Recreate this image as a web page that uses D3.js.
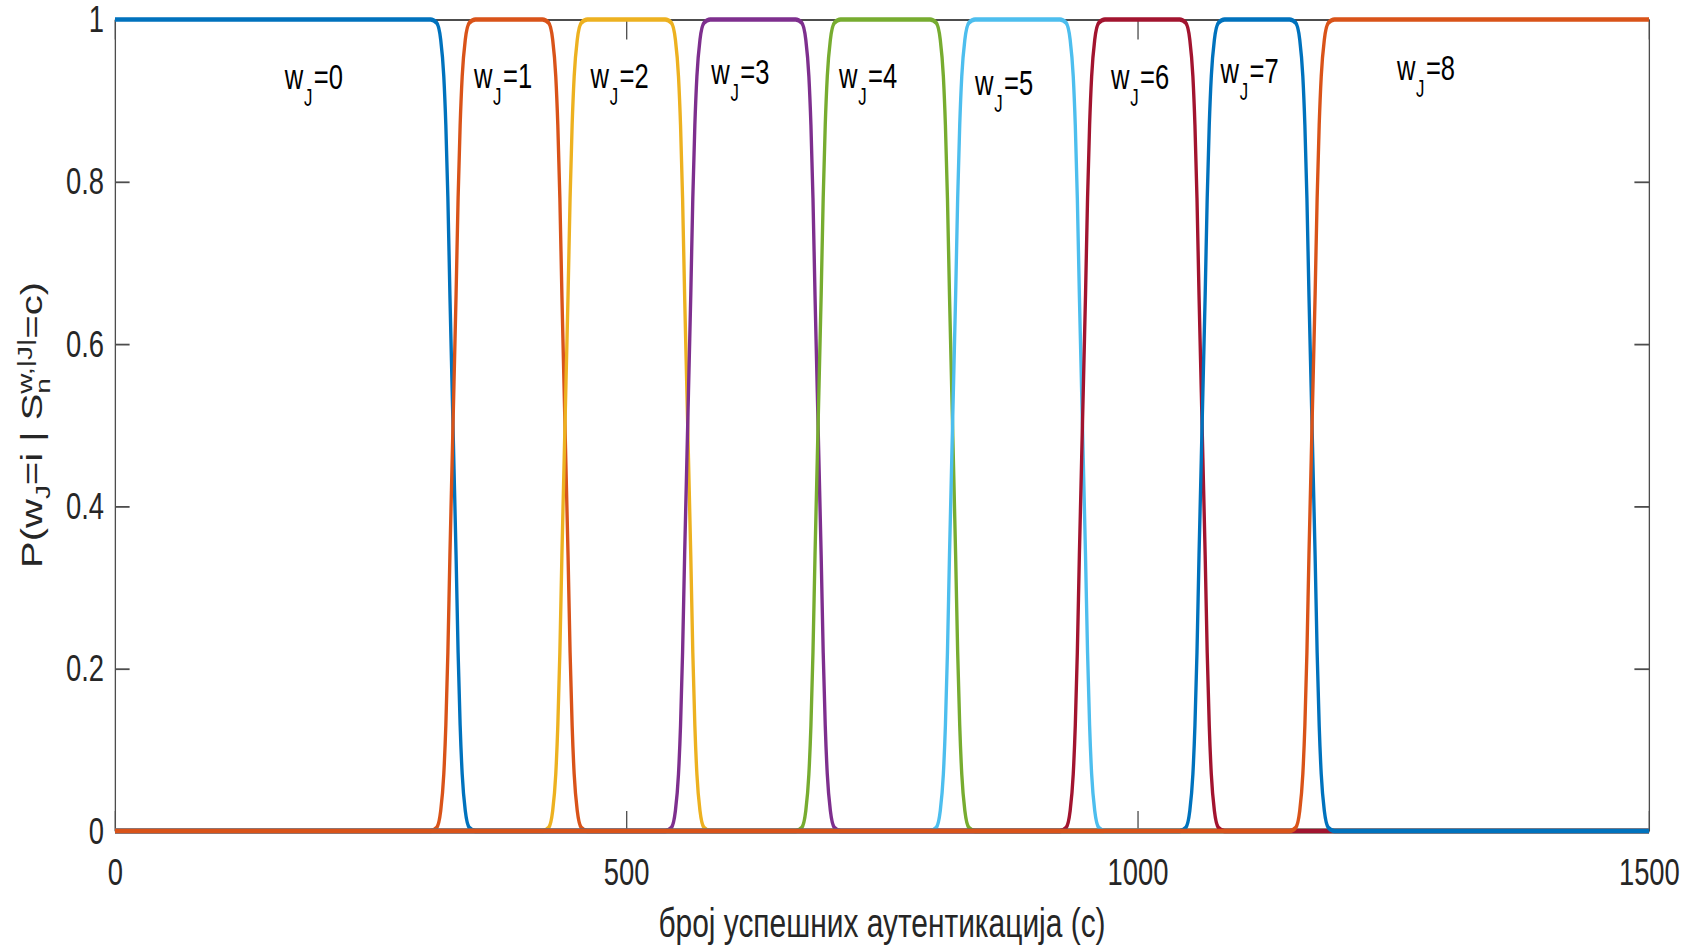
<!DOCTYPE html>
<html>
<head>
<meta charset="utf-8">
<script src="https://cdn.jsdelivr.net/npm/d3@7"></script>
<style>
  html, body { margin: 0; padding: 0; background: #fff; }
  svg { display: block; font-family: "Liberation Sans", Arial, Helvetica, sans-serif; }
</style>
</head>
<body>
<svg id="chart" width="1697" height="948"></svg>
<script>
// Posterior probability of each state w_J as a function of successful authentications c
const states = [0, 1, 2, 3, 4, 5, 6, 7, 8];
// c where neighbouring states cross at P = 0.5
const boundaries = [330.5, 440, 560, 687.5, 819, 946, 1063, 1170.5];
// shape of one rising transition: offset in c from the crossing, and probability
const riseOffsets = [-22, -16, -12, -9, -7, -5, -3, -1.5, 0, 1.5, 3, 5, 7, 9, 12, 16, 22];
const riseValues  = [0, 0.004, 0.025, 0.07, 0.13, 0.22, 0.34, 0.42, 0.5, 0.58, 0.66, 0.78, 0.87, 0.93, 0.975, 0.996, 1];
const xTicks = [0, 500, 1000, 1500];
const yTicks = [0, 0.2, 0.4, 0.6, 0.8, 1];
const yTickLabels = ["0", "0.2", "0.4", "0.6", "0.8", "1"];
// state annotations, anchored in data units (c, P)
const labelC = [166, 351, 465, 583, 708, 841, 974, 1081, 1253.5];
const labelP = [0.914, 0.915, 0.915, 0.921, 0.916, 0.907, 0.914, 0.922, 0.925];

const colors = ["#0072BD", "#D95319", "#EDB120", "#7E2F8E", "#77AC30", "#4DBEEE", "#A2142F", "#0072BD", "#D95319"];

// the figure is drawn narrowed horizontally
const SX = 0.73;
const plotLeft = 115, plotRight = 1649, plotTop = 19.5, plotBottom = 831;

const svg = d3.select("#chart");
const g = svg.append("g").attr("transform", `scale(${SX},1)`);

const x = d3.scaleLinear().domain([0, 1500]).range([plotLeft / SX, plotRight / SX]);
const y = d3.scaleLinear().domain([0, 1]).range([plotBottom, plotTop]);

const tickLen = 20;
const axisColor = "#4d4d4d";

function styleAxis(sel) {
  sel.selectAll("path.domain").attr("stroke", axisColor).attr("stroke-width", 1.8);
  sel.selectAll(".tick line").attr("stroke", axisColor).attr("stroke-width", 1.8);
  sel.selectAll(".tick text").attr("fill", "#262626").attr("font-size", 37.5)
     .attr("font-family", "'Liberation Sans', Arial, sans-serif");
}

g.append("g").attr("transform", `translate(0,${plotBottom})`)
  .call(d3.axisBottom(x).tickValues(xTicks).tickSizeInner(-tickLen).tickSizeOuter(0)
        .tickPadding(27).tickFormat(d3.format("d")))
  .call(styleAxis);
g.append("g").attr("transform", `translate(0,${plotTop})`)
  .call(d3.axisTop(x).tickValues(xTicks).tickSizeInner(-tickLen).tickSizeOuter(0).tickFormat(""))
  .call(styleAxis);
g.append("g").attr("transform", `translate(${plotLeft / SX},0)`)
  .call(d3.axisLeft(y).tickValues(yTicks).tickSizeInner(-tickLen).tickSizeOuter(0)
        .tickPadding(11 / SX).tickFormat((d, i) => yTickLabels[i]))
  .call(styleAxis);
g.append("g").attr("transform", `translate(${plotRight / SX},0)`)
  .call(d3.axisRight(y).tickValues(yTicks).tickSizeInner(-tickLen).tickSizeOuter(0).tickFormat(""))
  .call(styleAxis);

// curves
function curvePoints(i) {
  const pts = [[0, i === 0 ? 1 : 0]];
  if (i > 0) riseOffsets.forEach((o, k) => pts.push([boundaries[i - 1] + o, riseValues[k]]));
  if (i < states.length - 1) riseOffsets.forEach((o, k) => pts.push([boundaries[i] + o, 1 - riseValues[k]]));
  pts.push([1500, i === states.length - 1 ? 1 : 0]);
  return pts;
}
const line = d3.line().x(d => x(d[0])).y(d => y(d[1])).curve(d3.curveMonotoneX);

g.append("g").selectAll("path").data(states).join("path")
  .attr("d", i => line(curvePoints(i)))
  .attr("fill", "none")
  .attr("stroke", i => colors[i])
  .attr("stroke-width", 4.6)
  .attr("stroke-linejoin", "round");

// state annotations  w_J = i
const ann = g.append("g").attr("fill", "#000");
states.forEach(i => {
  const t = ann.append("text").attr("x", x(labelC[i])).attr("y", y(labelP[i])).attr("font-size", 35);
  t.append("tspan").text("w");
  t.append("tspan").attr("font-size", 23).attr("dx", 1).attr("dy", 17).text("J");
  t.append("tspan").attr("dy", -17).attr("dx", 2).text("=" + i);
});

// axis labels
g.append("text")
  .attr("x", x(750)).attr("y", 937)
  .attr("text-anchor", "middle").attr("font-size", 41).attr("fill", "#262626")
  .text("број успешних аутентикација (с)");

const yl = g.append("text")
  .attr("transform", `translate(${41.7 / SX},425) rotate(-90)`)
  .attr("text-anchor", "middle").attr("font-size", 40).attr("fill", "#262626");
yl.append("tspan").text("P(w");
yl.append("tspan").attr("font-size", 28).attr("dy", 11).text("J");
yl.append("tspan").attr("dy", -11).text("=i | S");
yl.append("tspan").attr("font-size", 28).attr("dy", 12).text("n");
yl.append("tspan").attr("font-size", 28).attr("dx", -15.6).attr("dy", -25).text("w,|J|");
yl.append("tspan").attr("dy", 13).text("=c)");
</script>
</body>
</html>
